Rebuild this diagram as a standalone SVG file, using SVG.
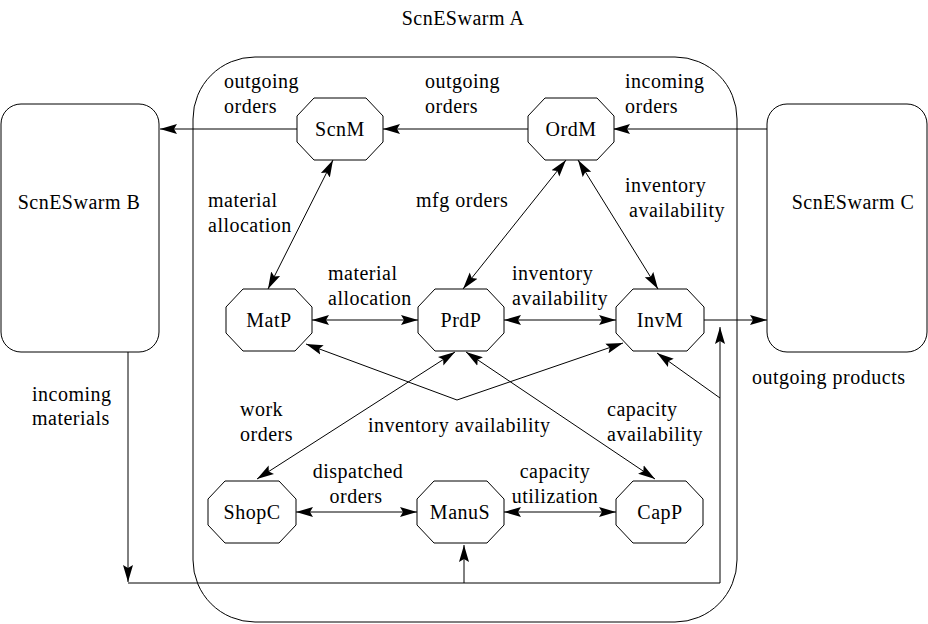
<svg xmlns="http://www.w3.org/2000/svg" width="928" height="624" viewBox="0 0 928 624">
<style>
text{font-family:"Liberation Serif",serif;font-size:20px;letter-spacing:0.5px;fill:#000}
.c{text-anchor:middle}
.n{fill:#fff;stroke:#000;stroke-width:1}
.e{fill:none;stroke:#000;stroke-width:1}
.box{fill:#fff;stroke:#000;stroke-width:1}
</style>
<defs>
<marker id="ah" markerUnits="userSpaceOnUse" markerWidth="18" markerHeight="12" viewBox="0 0 18 12" refX="17" refY="6" orient="auto-start-reverse">
<path d="M0,1 L17,6 L0,11 L3,6 z" fill="#000"/>
</marker>
</defs>
<rect width="928" height="624" fill="#fff"/>
<g id="swarmA">
<rect class="box" x="193" y="57" width="544" height="565" rx="62" ry="62"/>
<text class="c" x="463" y="25">ScnESwarm A</text>
</g>
<g id="swarmB">
<rect class="box" x="1" y="104" width="158" height="248" rx="20" ry="20"/>
<text class="c" x="79" y="209">ScnESwarm B</text>
</g>
<g id="swarmC">
<rect class="box" x="767" y="104" width="160" height="248" rx="20" ry="20"/>
<text class="c" x="853" y="209">ScnESwarm C</text>
</g>
<g id="connectors">
<line class="e" x1="767" y1="129" x2="613" y2="129" marker-end="url(#ah)"/>
<line class="e" x1="528" y1="129" x2="383" y2="129" marker-end="url(#ah)"/>
<line class="e" x1="297" y1="129" x2="160" y2="129" marker-end="url(#ah)"/>
<line class="e" x1="333" y1="160" x2="268" y2="289" marker-start="url(#ah)" marker-end="url(#ah)"/>
<line class="e" x1="566" y1="160" x2="463" y2="289" marker-start="url(#ah)" marker-end="url(#ah)"/>
<line class="e" x1="578" y1="160" x2="658" y2="289" marker-start="url(#ah)" marker-end="url(#ah)"/>
<line class="e" x1="312" y1="320" x2="418" y2="320" marker-start="url(#ah)" marker-end="url(#ah)"/>
<line class="e" x1="504" y1="320" x2="616" y2="320" marker-start="url(#ah)" marker-end="url(#ah)"/>
<line class="e" x1="704" y1="320" x2="767" y2="320" marker-end="url(#ah)"/>
<polyline class="e" points="306,344 457,400 623,343" marker-start="url(#ah)" marker-end="url(#ah)"/>
<line class="e" x1="257" y1="479" x2="455" y2="352" marker-start="url(#ah)" marker-end="url(#ah)"/>
<line class="e" x1="466" y1="352" x2="655" y2="479" marker-start="url(#ah)" marker-end="url(#ah)"/>
<line class="e" x1="720" y1="398" x2="657" y2="353" marker-end="url(#ah)"/>
<line class="e" x1="720" y1="583" x2="720" y2="327" marker-end="url(#ah)"/>
<line class="e" x1="128" y1="352" x2="128" y2="582" marker-end="url(#ah)"/>
<line class="e" x1="128" y1="583" x2="720" y2="583"/>
<line class="e" x1="464" y1="583" x2="464" y2="545" marker-end="url(#ah)"/>
<line class="e" x1="296" y1="512" x2="417" y2="512" marker-start="url(#ah)" marker-end="url(#ah)"/>
<line class="e" x1="504" y1="512" x2="616" y2="512" marker-start="url(#ah)" marker-end="url(#ah)"/>
</g>
<g id="ScnM"><polygon class="n" points="314,98 366,98 383,116 383,142 366,160 314,160 297,142 297,116"/><text class="c" x="340" y="136">ScnM</text></g>
<g id="OrdM"><polygon class="n" points="545,98 597,98 614,116 614,142 597,160 545,160 528,142 528,116"/><text class="c" x="571" y="136">OrdM</text></g>
<g id="MatP"><polygon class="n" points="243,289 295,289 312,307 312,333 295,351 243,351 226,333 226,307"/><text class="c" x="269" y="327">MatP</text></g>
<g id="PrdP"><polygon class="n" points="435,289 487,289 504,307 504,333 487,351 435,351 418,333 418,307"/><text class="c" x="461" y="327">PrdP</text></g>
<g id="InvM"><polygon class="n" points="633,289 687,289 704,307 704,333 687,351 633,351 616,333 616,307"/><text class="c" x="660" y="327">InvM</text></g>
<g id="ShopC"><polygon class="n" points="225,481 279,481 296,499 296,525 279,543 225,543 208,525 208,499"/><text class="c" x="252" y="519">ShopC</text></g>
<g id="ManuS"><polygon class="n" points="434,481 487,481 504,499 504,525 487,543 434,543 417,525 417,499"/><text class="c" x="460" y="519">ManuS</text></g>
<g id="CapP"><polygon class="n" points="633,481 686,481 703,499 703,525 686,543 633,543 616,525 616,499"/><text class="c" x="660" y="519">CapP</text></g>
<g id="labels">
<text x="224" y="88">outgoing</text><text x="224" y="113">orders</text>
<text x="425" y="88">outgoing</text><text x="425" y="113">orders</text>
<text x="625" y="88">incoming</text><text x="625" y="113">orders</text>
<text x="208" y="207">material</text><text x="208" y="232">allocation</text>
<text x="416" y="207">mfg orders</text>
<text x="625" y="192">inventory</text><text x="629" y="217">availability</text>
<text x="328" y="280">material</text><text x="328" y="305">allocation</text>
<text x="512" y="280">inventory</text><text x="512" y="305">availability</text>
<text x="240" y="416">work</text><text x="240" y="441">orders</text>
<text x="368" y="432">inventory availability</text>
<text x="607" y="416">capacity</text><text x="607" y="441">availability</text>
<text class="c" x="358" y="478">dispatched</text><text class="c" x="356" y="503">orders</text>
<text class="c" x="555" y="478">capacity</text><text class="c" x="555" y="503">utilization</text>
<text x="32" y="401">incoming</text><text x="32" y="425">materials</text>
<text x="752" y="384">outgoing products</text>
</g>
</svg>
